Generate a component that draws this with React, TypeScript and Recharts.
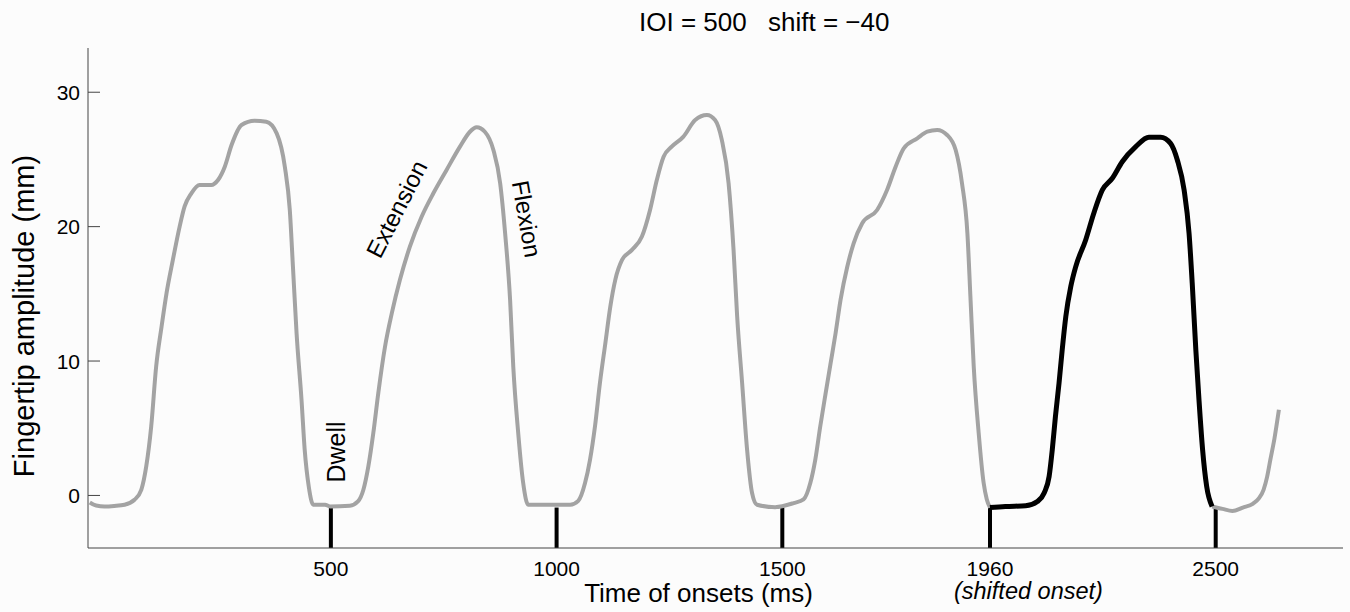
import React from "react";
import { LineChart, Line, XAxis, YAxis, ReferenceLine } from "recharts";

// pulse trace before the shifted onset (ms, mm)
const leadTimes = [
  -34, -20, -1, 20, 43, 65, 80, 91, 102, 113, 125, 136, 150, 165, 176, 191, 209, 235, 250, 265,
  280, 302, 331, 357, 380, 398, 409, 416, 424, 435, 442, 451, 461, 487, 498, 542, 560, 572, 583,
  594, 605, 620, 635, 653, 675, 701, 727, 756, 786, 808, 823, 841, 860, 875, 886, 897, 904, 915,
  926, 937, 978, 1030, 1048, 1063, 1074, 1085, 1096, 1108, 1119, 1130, 1145, 1167, 1189, 1207,
  1222, 1237, 1255, 1281, 1307, 1333, 1351, 1366, 1381, 1392, 1400, 1411, 1422, 1433, 1444, 1484,
  1525, 1547, 1562, 1573, 1584, 1596, 1607, 1618, 1629, 1644, 1658, 1677, 1710, 1732, 1751, 1769,
  1799, 1821, 1843, 1865, 1884, 1898, 1910, 1917, 1924, 1935, 1946, 1953, 1960,
];
const leadAmps = [
  -0.52, -0.75, -0.82, -0.78, -0.69, -0.32, 0.42, 2.16, 5.13, 9.6, 12.57, 15.05, 17.52, 20.0, 21.5,
  22.48, 23.1, 23.1, 23.47, 24.46, 26.07, 27.56, 27.88, 27.8, 26.94, 24.46, 21.24, 17.0, 12.07, 7.1,
  3.4, 0.67, -0.69, -0.69, -0.82, -0.77, -0.45, 0.42, 2.16, 4.64, 7.61, 11.08, 13.56, 16.04, 18.51,
  20.74, 22.48, 24.2, 25.95, 27.06, 27.39, 27.06, 25.7, 23.23, 19.5, 14.55, 9.6, 4.64, 0.92, -0.69,
  -0.69, -0.69, -0.4, 0.92, 2.65, 5.13, 8.36, 11.33, 14.05, 16.04, 17.52, 18.27, 19.26, 21.24,
  23.47, 25.2, 25.95, 26.7, 27.93, 28.3, 27.93, 26.45, 23.23, 18.27, 13.31, 8.36, 3.4, 0.18, -0.69,
  -0.87, -0.57, -0.3, 0.92, 2.65, 5.13, 7.61, 9.84, 12.07, 14.55, 17.03, 18.76, 20.25, 21.24, 22.73,
  24.46, 25.83, 26.57, 27.06, 27.19, 26.82, 25.7, 23.23, 19.5, 14.55, 9.6, 4.64, 0.92, -0.3, -0.9,
];

// shifted tap
const shiftTimes = [
  1960, 1994, 2039, 2065, 2080, 2091, 2098, 2105, 2113, 2120, 2128, 2139, 2150, 2172, 2190, 2209,
  2231, 2253, 2283, 2312, 2338, 2360, 2375, 2390, 2401, 2408, 2416, 2423, 2431, 2440, 2452,
];
const shiftAmps = [
  -0.9, -0.82, -0.77, -0.45, 0.18, 1.41, 3.4, 5.87, 8.36, 10.83, 13.31, 15.54, 17.03, 19.01, 21.0,
  22.73, 23.6, 24.83, 25.95, 26.65, 26.65, 26.2, 24.96, 22.73, 19.5, 15.79, 10.83, 7.1, 3.4, 0.67,
  -0.82,
];

// trace after the shifted tap
const tailTimes = [2452, 2475, 2497, 2520, 2543, 2556, 2566, 2574, 2581, 2590, 2600];
const tailAmps = [-0.82, -1.0, -1.15, -0.9, -0.6, -0.2, 0.42, 1.4, 2.65, 4.2, 6.37];

const onsetTimes = [500, 1000, 1500, 1960, 2460];
const onsetLabels = ["500", "1000", "1500", "1960", "2500"];
const onsetNotes = ["", "", "", "(shifted onset)", ""];
const onsetTop = -0.9;

const yTicks = [0, 10, 20, 30];
const xDomain = [-38, 2742];
const yDomain = [-3.91, 33.29];

const ioi = 500;
const shift = -40;

const toRows = (ts: number[], vs: number[]) => ts.map((t, i) => ({ t, v: vs[i] }));
const lead = toRows(leadTimes, leadAmps);
const shifted = toRows(shiftTimes, shiftAmps);
const tail = toRows(tailTimes, tailAmps);

const GRAY = "#a3a3a3";
const AXIS = "#444";
const FONT = '"Liberation Sans", Arial, Helvetica, sans-serif';

function YTick({ x, y, payload }: any) {
  return (
    <g>
      <line x1={x + 8} x2={x + 20} y1={y} y2={y} stroke={AXIS} strokeWidth={1} />
      <text x={x} y={y} dy={7.5} textAnchor="end" fontSize={21} fill="#000">
        {payload.value}
      </text>
    </g>
  );
}

function XTick({ x, y, payload }: any) {
  const i = onsetTimes.indexOf(payload.value);
  return (
    <g>
      <text x={x} y={y + 28} textAnchor="middle" fontSize={21} fill="#000">
        {onsetLabels[i]}
      </text>
      {onsetNotes[i] && (
        <text x={x - 36} y={y + 51} fontSize={23.5} fontStyle="italic" fill="#000">
          {onsetNotes[i]}
        </text>
      )}
    </g>
  );
}

export default function App() {
  return (
    <div
      style={{
        position: "absolute", left: 0, top: 0, width: 1350, height: 612,
        background: "#fcfcfc", fontFamily: FONT,
      }}
    >
      <LineChart width={1350} height={612} margin={{ top: 48, right: 7, bottom: 0, left: 0 }}>
        <XAxis
          type="number" dataKey="t" domain={xDomain} allowDataOverflow
          ticks={onsetTimes} interval={0} tick={<XTick />}
          tickLine={false} tickSize={0} tickMargin={0} height={64}
          axisLine={{ stroke: AXIS, strokeWidth: 1 }}
        />
        <YAxis
          type="number" domain={yDomain} allowDataOverflow
          ticks={yTicks} tick={<YTick />} tickLine={false} tickSize={0} tickMargin={8} width={88}
          axisLine={{ stroke: AXIS, strokeWidth: 1 }}
        />
        {onsetTimes.map((t) => (
          <ReferenceLine
            key={t}
            segment={[{ x: t, y: onsetTop }, { x: t, y: yDomain[0] }]}
            stroke="#000" strokeWidth={4}
          />
        ))}
        <Line data={lead} dataKey="v" type="monotone" stroke={GRAY} strokeWidth={4}
          dot={false} isAnimationActive={false} strokeLinejoin="round" />
        <Line data={tail} dataKey="v" type="monotone" stroke={GRAY} strokeWidth={4}
          dot={false} isAnimationActive={false} strokeLinejoin="round" />
        <Line data={shifted} dataKey="v" type="monotone" stroke="#000" strokeWidth={5}
          dot={false} isAnimationActive={false} strokeLinejoin="round" />
      </LineChart>
      <svg
        width={1350} height={612}
        style={{ position: "absolute", left: 0, top: 0, pointerEvents: "none" }}
      >
        <text x={639} y={31} fontSize={26}>{`IOI = ${ioi}`}</text>
        <text x={768} y={31} fontSize={26}>{`shift = ${shift < 0 ? "\u2212" : ""}${Math.abs(shift)}`}</text>
        <text transform="translate(33.5,316) rotate(-90)" textAnchor="middle" fontSize={29}>
          Fingertip amplitude (mm)
        </text>
        <text x={698.5} y={602} textAnchor="middle" fontSize={26}>Time of onsets (ms)</text>
        <text transform="translate(345,452) rotate(-90)" textAnchor="middle" fontSize={25}>Dwell</text>
        <text transform="translate(396.7,209) rotate(-63)" textAnchor="middle" dy="0.35em" fontSize={24}>
          Extension
        </text>
        <text transform="translate(526.7,219) rotate(80)" textAnchor="middle" dy="0.35em" fontSize={24}>
          Flexion
        </text>
      </svg>
    </div>
  );
}
